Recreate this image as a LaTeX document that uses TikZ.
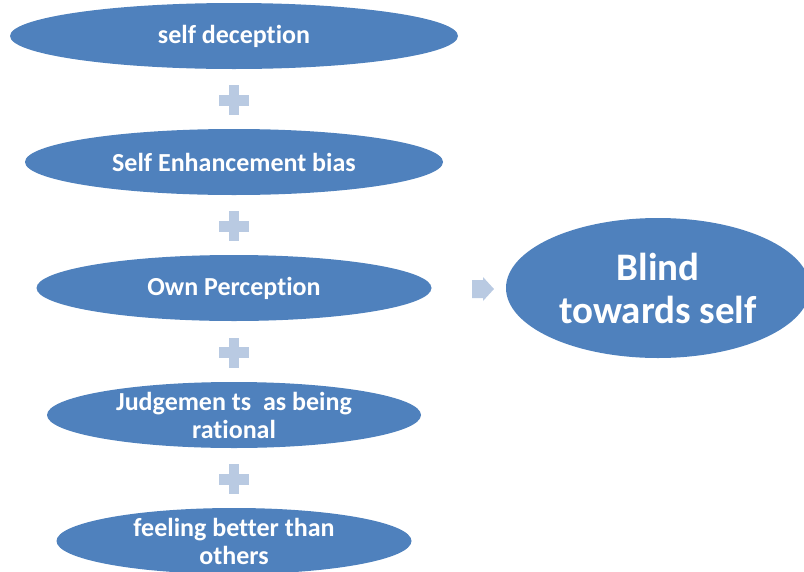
\documentclass[tikz,border=0pt]{standalone}
\usepackage{fontspec}
\setmainfont[Ligatures=NoCommon]{Carlito}
\usetikzlibrary{calc,shapes.geometric}

\definecolor{ovalblue}{HTML}{4F81BD}
\definecolor{plusblue}{HTML}{B9CAE2}

\begin{document}
\begin{tikzpicture}[x=1pt,y=-1pt,
    oval/.style={ellipse, fill=ovalblue, inner sep=0pt, text=white, align=center,
      minimum width=#1, minimum height=66pt, font=\bfseries\fontsize{26}{28}\selectfont},
    plusbar/.style={rectangle, fill=plusblue, inner sep=0pt}]
  \useasboundingbox (0,0) rectangle (804,571);

  \node (e1) [oval=448pt] at (234,36)  {self deception};
  \node (e2) [oval=418pt] at (234,162) {Self Enhancement bias};
  \node (e3) [oval=395pt] at (234,288) {Own Perception};
  \node (e4) [oval=374pt] at (234,415) {Judgemen ts\ \ as being\\rational};
  \node (e5) [oval=355pt] at (234,541) {feeling better than\\others};

  % plus signs between the ovals
  \foreach \a/\b [count=\i] in {e1/e2,e2/e3,e3/e4,e4/e5} {
    \node (plush\i) [plusbar, minimum width=30pt, minimum height=11pt] at ($(\a)!0.5!(\b)+(0,1)$) {};
    \node (plusv\i) [plusbar, minimum width=10pt, minimum height=30pt] at (plush\i) {};
  }

  \node (blind) [ellipse, fill=ovalblue, inner sep=0pt, text=white, align=center,
    minimum width=304pt, minimum height=140pt,
    font=\bfseries\fontsize{39}{43}\selectfont] at (658,288) {Blind\\towards self};

  % block arrow towards the result
  \coordinate (tip) at (494,289);
  \fill[plusblue] (tip) -- ++(-11,-12) -- ++(0,3) -- ++(-11,0) -- ++(0,18)
    -- ++(11,0) -- ++(0,3) -- cycle;
\end{tikzpicture}
\end{document}
